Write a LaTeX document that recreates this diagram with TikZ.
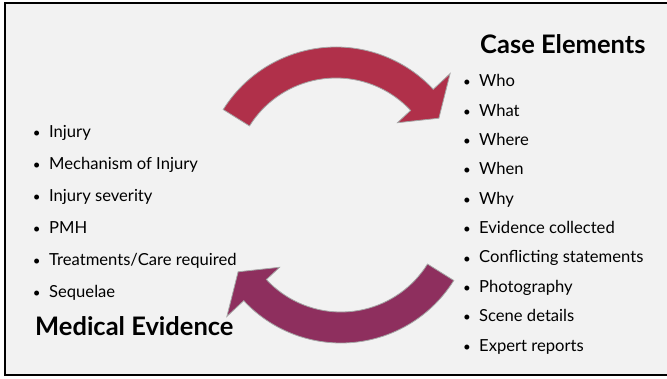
\documentclass[tikz,border=0pt]{standalone}
\usepackage{fontspec}
\setmainfont{Lato}
\definecolor{caseRed}{RGB}{176,48,74}
\definecolor{medPurple}{RGB}{142,47,94}
\definecolor{slideBg}{RGB}{242,242,242}
\tikzset{
  bulletitem/.style={anchor=base west,inner sep=0pt,font=\fontsize{16.6}{19}\selectfont},
  listhead/.style={anchor=base west,inner sep=0pt,font=\bfseries\fontsize{25.5}{29}\selectfont},
  curvedarrow/.style={line width=0.8pt,draw=gray!70}
}
\newcommand{\bul}{\llap{\scalebox{0.8}{\textbullet}\hspace{8.5pt}}}
\begin{document}
\begin{tikzpicture}[x=1pt,y=1pt]
\useasboundingbox (0,0) rectangle (667,378);
\fill[white] (0,0) rectangle (667,378);
\draw[line width=2pt,fill=slideBg] (5,3) rectangle (672,374.5);
% case elements arrow
\begin{scope}[shift={(336,198)}]
\filldraw[curvedarrow,fill=caseRed] (148:133) arc[start angle=148,end angle=43,radius=133] -- (43:156) -- (31:120) -- (43:84) -- (43:102) arc[start angle=43,end angle=148,radius=102] -- cycle;
\end{scope}
% medical evidence arrow
\begin{scope}[rotate around={180:(338.5,183)},shift={(336,198)}]
\filldraw[curvedarrow,fill=medPurple] (148:133) arc[start angle=148,end angle=43,radius=133] -- (43:156) -- (31:120) -- (43:84) -- (43:102) arc[start angle=43,end angle=148,radius=102] -- cycle;
\end{scope}
\node[listhead] at (480,324) (casehead) {Case Elements};
\node[bulletitem] at (479,291) (who) {\bul Who};
\node[bulletitem] at (479,261.7) (what) {\bul What};
\node[bulletitem] at (479,232.3) (where) {\bul Where};
\node[bulletitem] at (479,203) (when) {\bul When};
\node[bulletitem] at (479,173.7) (why) {\bul Why};
\node[bulletitem] at (479,144.3) (evidence) {\bul Evidence collected};
\node[bulletitem] at (479,115) (conflict) {\bul Conflicting statements};
\node[bulletitem] at (479,85.7) (photo) {\bul Photography};
\node[bulletitem] at (479,56.3) (scene) {\bul Scene details};
\node[bulletitem] at (479,27) (expert) {\bul Expert reports};
\node[bulletitem] at (49,240.5) (injury) {\bul Injury};
\node[bulletitem] at (49,208.5) (mechanism) {\bul Mechanism of Injury};
\node[bulletitem] at (49,176.5) (severity) {\bul Injury severity};
\node[bulletitem] at (49,144.5) (pmh) {\bul PMH};
\node[bulletitem] at (49,112.5) (care) {\bul Treatments/Care required};
\node[bulletitem] at (49,80.5) (sequelae) {\bul Sequelae};
\node[listhead] at (35,43) (medhead) {Medical Evidence};
\end{tikzpicture}
\end{document}
